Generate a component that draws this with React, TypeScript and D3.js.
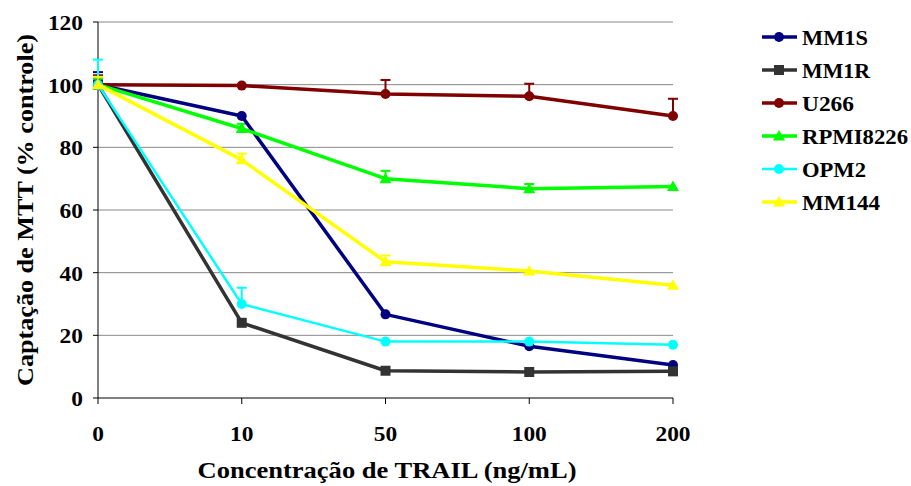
import React from "react";
import * as d3 from "d3";

const categories = ["0", "10", "50", "100", "200"];
const yTicks = [0, 20, 40, 60, 80, 100, 120];

const seriesNames = ["MM1S", "MM1R", "U266", "RPMI8226", "OPM2", "MM144"];
const mm1s = [100, 90, 26.7, 16.5, 10.5];
const mm1r = [100, 24, 8.7, 8.3, 8.5];
const u266 = [100, 99.7, 97, 96.3, 90];
const rpmi = [100, 86, 70, 66.8, 67.5];
const opm2 = [100, 30, 18, 18, 17];
const mm144 = [100, 76, 43.5, 40.5, 36];

const mm1sErr = [4, 0, 0, 0, 0];
const mm1rErr = [2, 0, 0, 0, 0];
const u266Err = [3, 0, 4.5, 4, 5.5];
const rpmiErr = [2, 1.5, 2.5, 1.5, 0];
const opm2Err = [8, 5.2, 0, 0, 0];
const mm144Err = [2.5, 2, 2, 0, 0];

const colors = ["#000080", "#333333", "#800000", "#00ff00", "#00ffff", "#ffff00"];
const markers = ["circle", "square", "circle", "triangle", "circle", "triangle"];
const widths = [3.5, 3.5, 3.5, 3.5, 2.5, 3.5];

const allValues = [mm1s, mm1r, u266, rpmi, opm2, mm144];
const allErrs = [mm1sErr, mm1rErr, u266Err, rpmiErr, opm2Err, mm144Err];

function Marker({ type, x, y, color }: { type: string; x: number; y: number; color: string }) {
  if (type === "circle") return <circle cx={x} cy={y} r={5} fill={color} />;
  if (type === "square") return <rect x={x - 5} y={y - 5} width={10} height={10} fill={color} />;
  return <path d={`M${x},${y - 6}L${x + 6},${y + 4.5}L${x - 6},${y + 4.5}Z`} fill={color} />;
}

export default function App() {
  const left = 98, right = 673, top = 22, bottom = 398;
  const x = d3.scalePoint<string>().domain(categories).range([left, right]);
  const y = d3.scaleLinear().domain([0, 120]).range([bottom, top]);
  const line = d3.line<number>().x((_, i) => x(categories[i])!).y((v) => y(v));
  const font = "Liberation Serif, Tinos, Times New Roman, DejaVu Serif, serif";
  const legendTextW = [66, 68, 52, 106, 64, 78];

  return (
    <svg width={911} height={486} style={{ position: "absolute", left: 0, top: 0, background: "#fff" }}>
      {yTicks.map((t) => (
        <g key={t}>
          {t > 0 && <line x1={left} x2={right} y1={y(t)} y2={y(t)} stroke="#888" strokeWidth={1} />}
          <line x1={left - 5} x2={left} y1={y(t)} y2={y(t)} stroke="#000" strokeWidth={1} />
          <text x={83} y={y(t) + 8} textAnchor="end" fontFamily={font} fontWeight="bold" fontSize={22}
            textLength={String(t).length * 11.7} lengthAdjust="spacingAndGlyphs">
            {t}
          </text>
        </g>
      ))}
      <line x1={left} x2={left} y1={top} y2={bottom} stroke="#000" strokeWidth={1} />
      <line x1={left} x2={right} y1={bottom} y2={bottom} stroke="#000" strokeWidth={1} />
      {categories.map((c) => (
        <g key={c}>
          <line x1={x(c)} x2={x(c)} y1={bottom} y2={bottom + 6} stroke="#000" strokeWidth={1} />
          <text x={x(c)} y={441} textAnchor="middle" fontFamily={font} fontWeight="bold" fontSize={22}
            textLength={c.length * 11.7} lengthAdjust="spacingAndGlyphs">
            {c}
          </text>
        </g>
      ))}
      {allValues.map((vals, s) => (
        <g key={s}>
          {vals.map((v, i) =>
            allErrs[s][i] > 0 ? (
              <g key={i}>
                <line x1={x(categories[i])} x2={x(categories[i])} y1={y(v)} y2={y(v + allErrs[s][i])} stroke={colors[s]} strokeWidth={2} />
                <line x1={x(categories[i])! - 5} x2={x(categories[i])! + 5} y1={y(v + allErrs[s][i])} y2={y(v + allErrs[s][i])} stroke={colors[s]} strokeWidth={2} />
              </g>
            ) : null
          )}
        </g>
      ))}
      {allValues.map((vals, s) => (
        <g key={s}>
          <path d={line(vals)!} fill="none" stroke={colors[s]} strokeWidth={widths[s]} strokeLinejoin="round" />
          {vals.map((v, i) => (
            <Marker key={i} type={markers[s]} x={x(categories[i])!} y={y(v)} color={colors[s]} />
          ))}
        </g>
      ))}
      {seriesNames.map((n, s) => {
        const ly = 37 + s * 33;
        return (
          <g key={n}>
            <line x1={762} x2={797} y1={ly} y2={ly} stroke={colors[s]} strokeWidth={widths[s]} />
            <Marker type={markers[s]} x={779} y={ly} color={colors[s]} />
            <text x={802} y={ly + 8} fontFamily={font} fontWeight="bold" fontSize={22}
              textLength={legendTextW[s]} lengthAdjust="spacingAndGlyphs">
              {n}
            </text>
          </g>
        );
      })}
      <text x={387} y={478} textAnchor="middle" fontFamily={font} fontWeight="bold" fontSize={23}
        textLength={379} lengthAdjust="spacingAndGlyphs">
        Concentração de TRAIL (ng/mL)
      </text>
      <text transform={`translate(33,210) rotate(-90)`} textAnchor="middle" fontFamily={font} fontWeight="bold" fontSize={24}
        textLength={352} lengthAdjust="spacingAndGlyphs">
        Captação de MTT (% controle)
      </text>
    </svg>
  );
}
